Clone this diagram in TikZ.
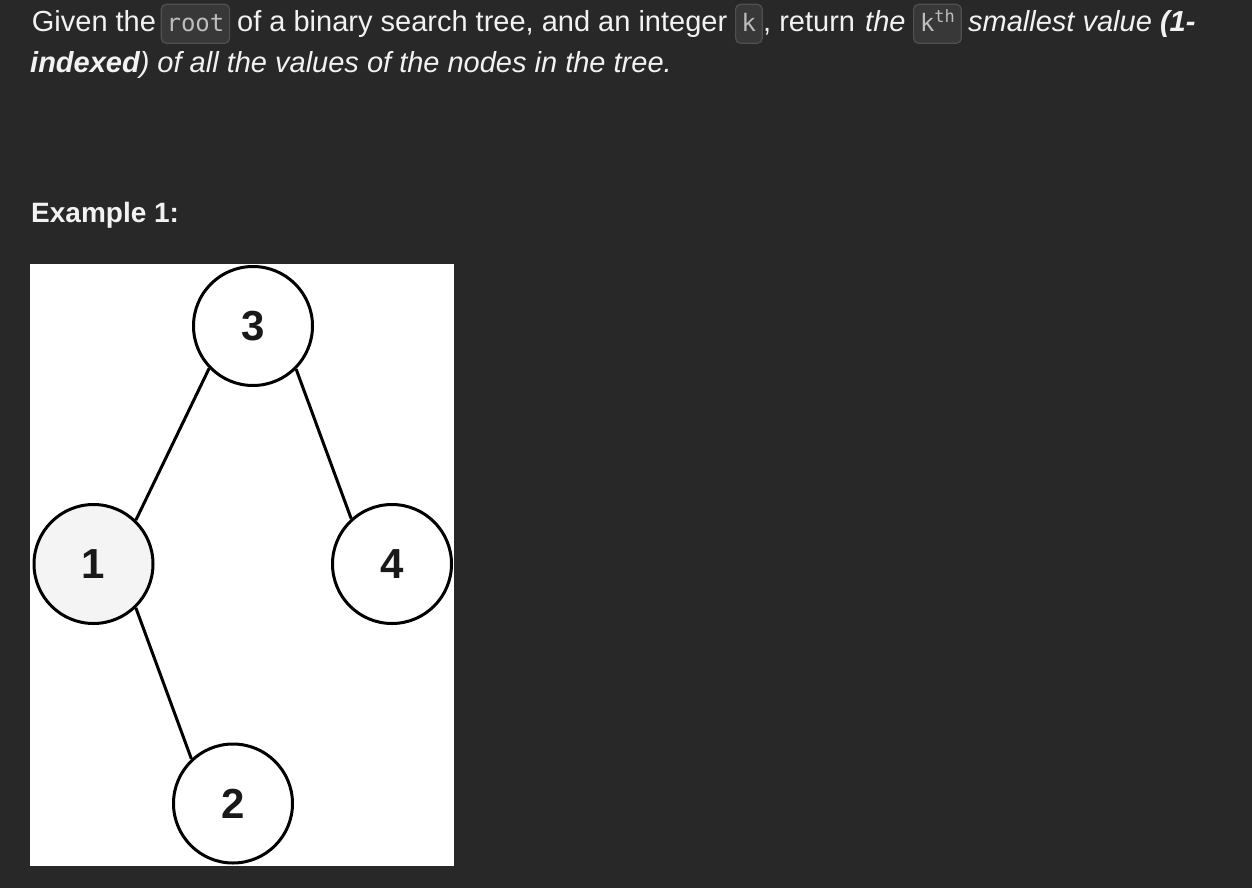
\documentclass[tikz,border=0pt]{standalone}
\usepackage{fontspec}
\setmainfont{Liberation Sans}
\setmonofont{DejaVu Sans Mono}
\definecolor{bg}{HTML}{282828}
\definecolor{fg}{HTML}{F2F2F2}
\definecolor{codebg}{HTML}{383838}
\definecolor{codeborder}{HTML}{505050}
\definecolor{codefg}{HTML}{BDBDBD}
\definecolor{nodegray}{HTML}{F4F4F4}
\begin{document}
\begin{tikzpicture}[x=1pt,y=-1pt,
  txt/.style={anchor=base west, inner sep=0pt, text=fg, font=\fontsize{29}{34}\selectfont},
  codebox/.style={draw=codeborder, fill=codebg, rounded corners=5pt, line width=1.2pt, text=codefg,
    font=\ttfamily\fontsize{24}{28}\selectfont, inner sep=0pt, text height=27.4pt, text depth=11.6pt, anchor=base west},
  tnode/.style={circle, draw=black, line width=3pt, fill=white, minimum size=119pt, inner sep=0pt,
    font=\bfseries\fontsize{42}{48}\selectfont, text=black!90},
  treeedge/.style={draw=black, line width=3pt}]
\useasboundingbox (0,0) rectangle (1252,888);
\fill[bg] (0,0) rectangle (1252,888);
% line 1
\node[txt] (t1) at (31.7,31.7) {Given the};
\node[codebox, minimum width=68.3pt] (c1) at (160.7,31.7) {root};
\node[txt] (t2) at (237,31.7) {of a binary search tree, and an integer};
\node[codebox, minimum width=26.7pt] (c2) at (735,31.7) {k};
\node[txt] (t3) at (763,31.7) {, return};
\node[txt] (t4) at (865,31.7) {\itshape the};
\node[codebox, minimum width=47.7pt] (c3) at (913,31.7) {k\raisebox{9pt}{\fontsize{17}{20}\selectfont th}};
\node[txt] (t5) at (968,31.7) {\itshape smallest value \bfseries(1-};
% line 2
\node[txt] (t6) at (30,72.5) {\itshape\bfseries indexed\mdseries) of all the values of the nodes in the tree.};
% example
\node[txt, font=\bfseries\fontsize{28}{33}\selectfont] (ex) at (31,222) {Example 1:};
% tree image
\fill[white] (30,264) rectangle (454,866);
\begin{scope}
\clip (30,264) rectangle (454,866);
\node[tnode] (n3) at (253,326) {3};
\node[tnode, fill=nodegray] (n1) at (93.5,564) {1};
\node[tnode] (n4) at (392,564) {4};
\node[tnode] (n2) at (233,803.5) {2};
\draw[treeedge] (n3.224) -- (n1.46);
\draw[treeedge] (n3.315) -- (n4.132);
\draw[treeedge] (n1.314) -- (n2.133);
\end{scope}
\end{tikzpicture}
\end{document}
